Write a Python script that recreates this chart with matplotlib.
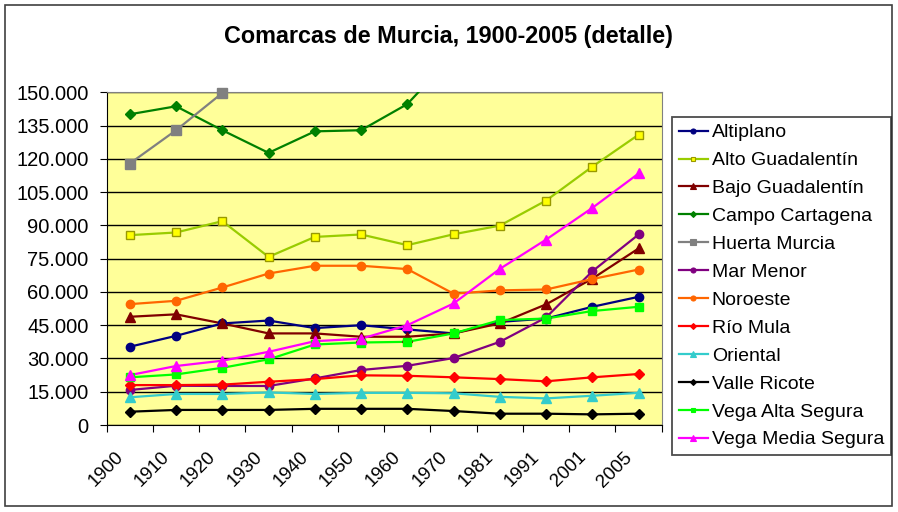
import numpy as np
import matplotlib
matplotlib.use('Agg')
import matplotlib.pyplot as plt
import matplotlib.transforms as mtransforms
from matplotlib.lines import Line2D
from matplotlib.patches import Rectangle
from matplotlib.ticker import FuncFormatter

plt.rcParams['font.family'] = ['Liberation Sans', 'DejaVu Sans']

years = ['1900', '1910', '1920', '1930', '1940', '1950', '1960',
         '1970', '1981', '1991', '2001', '2005']

# population per comarca (values above 150.000 fall outside the detail view)
altiplano = [35300, 40200, 45800, 47100, 43700, 45000, 43100, 41300, 46500, 48000, 53300, 57800]
alto_guadalentin = [85600, 86800, 91900, 75800, 84800, 85900, 81100, 86000, 89900, 101200, 116500, 130900]
bajo_guadalentin = [48800, 49900, 45800, 41300, 41300, 39800, 39800, 41300, 45800, 54400, 66000, 79600]
campo_cartagena = [140100, 143700, 132900, 122700, 132400, 132900, 144700, 167000, 195000, 192000, 211000, 234000]
huerta_murcia = [117900, 132900, 149700, 175000, 200000, 218000, 250000, 290000, 340000, 380000, 420000, 440000]
mar_menor = [15800, 17700, 17600, 17600, 21000, 24800, 26700, 30200, 37500, 48500, 69300, 85900]
noroeste = [54500, 56000, 62000, 68300, 71800, 71800, 70300, 59200, 60700, 61100, 65800, 70100]
rio_mula = [18000, 18000, 18200, 19500, 20700, 22400, 22200, 21500, 20700, 19700, 21500, 23000]
oriental = [12500, 14000, 14000, 14700, 14000, 14500, 14500, 14300, 12700, 12000, 13200, 14500]
valle_ricote = [6000, 6800, 6800, 6800, 7300, 7300, 7300, 6300, 5100, 5100, 4800, 5100]
vega_alta = [21500, 22800, 25800, 29600, 36300, 37200, 37500, 41300, 47300, 48000, 51400, 53300]
vega_media = [22500, 26600, 29000, 33000, 37800, 38900, 45000, 54800, 70400, 83600, 97900, 113400]

names = ['Altiplano', 'Alto Guadalentín', 'Bajo Guadalentín', 'Campo Cartagena',
         'Huerta Murcia', 'Mar Menor', 'Noroeste', 'Río Mula', 'Oriental',
         'Valle Ricote', 'Vega Alta Segura', 'Vega Media Segura']
series = [altiplano, alto_guadalentin, bajo_guadalentin, campo_cartagena,
          huerta_murcia, mar_menor, noroeste, rio_mula, oriental,
          valle_ricote, vega_alta, vega_media]

# (line colour, marker, face colour, marker size)
styles = [
    ('#000080', 'o', '#000080', 6),
    ('#99CC00', 's', '#FFFF00', 6),
    ('#800000', '^', '#800000', 7),
    ('#008000', 'D', '#008000', 5),
    ('#808080', 's', '#808080', 6.5),
    ('#800080', 'o', '#800080', 6),
    ('#FF6600', 'o', '#FF6600', 6),
    ('#FF0000', 'D', '#FF0000', 5),
    ('#33CCCC', '^', '#33CCCC', 7),
    ('#000000', 'D', '#000000', 5),
    ('#00FF00', 's', '#00FF00', 6),
    ('#FF00FF', '^', '#FF00FF', 7),
]

ymax = 150000

fig = plt.figure(figsize=(8.98, 5.12), dpi=100)
ax = fig.add_axes([0.1188, 0.1699, 0.6181, 0.6498])
ax.set_facecolor('#FFFF99')

x = np.arange(len(years)) + 0.5
handles = []
for name, vals, (lc, mk, fc, ms) in zip(names, series, styles):
    v = np.array(vals, dtype=float)
    ax.plot(x, v, color=lc, lw=1.6, zorder=3)
    vis = v <= ymax
    ec = lc if mk != 's' or fc == lc else '#999900'
    ax.plot(x[vis], v[vis], ls='none', marker=mk, ms=ms, mfc=fc, mec=ec,
            mew=1, clip_on=False, zorder=4)
    handles.append(Line2D([], [], color=lc, lw=1.6, marker=mk, ms=ms * 0.6,
                          mfc=fc, mec=ec, mew=0.8, label=name))

ax.set_xlim(0, len(years))
ax.set_ylim(0, ymax)
ax.set_yticks(np.arange(0, ymax + 1, 15000))
ax.yaxis.set_major_formatter(FuncFormatter(lambda v, p: f'{int(v):,}'.replace(',', '.')))
ax.grid(axis='y', color='black', lw=1)
ax.set_axisbelow(True)

ax.set_xticks(np.arange(len(years) + 1))
ax.set_xticklabels([])
ax.set_xticks(x, minor=True)
ax.set_xticklabels(years, minor=True, rotation=45, ha='right',
                   rotation_mode='anchor', fontsize=13.5)
ax.tick_params(axis='x', which='minor', length=0, pad=17)
ax.tick_params(axis='x', which='major', length=5, direction='out', color='black')
ax.tick_params(axis='y', length=5, direction='out', labelsize=14.5, pad=8)
shift = mtransforms.ScaledTranslation(-0.15, 0, fig.dpi_scale_trans)
for lab in ax.get_xticklabels(minor=True):
    lab.set_transform(lab.get_transform() + shift)

for s in ['top', 'right']:
    ax.spines[s].set_color('#808080')
for s in ['left', 'bottom']:
    ax.spines[s].set_color('black')

fig.text(0.499, 0.929, 'Comarcas de Murcia, 1900-2005 (detalle)',
         ha='center', va='center', fontsize=16.8, fontweight='bold')

leg = fig.legend(handles=handles, loc='upper left',
                 bbox_to_anchor=(672 / 898, 1 - 117 / 512),
                 fontsize=14, frameon=True, fancybox=False,
                 edgecolor='#202020', handlelength=1.5, handletextpad=0.2,
                 labelspacing=0.53, borderpad=0.35, borderaxespad=0)
leg.get_frame().set_linewidth(1.3)

fig.patches.append(Rectangle((5 / 898, 1 - 506 / 512), 887 / 898, 501 / 512,
                             transform=fig.transFigure, fill=False,
                             edgecolor='#404040', lw=1.2))

fig.savefig('out.png', dpi=100)
